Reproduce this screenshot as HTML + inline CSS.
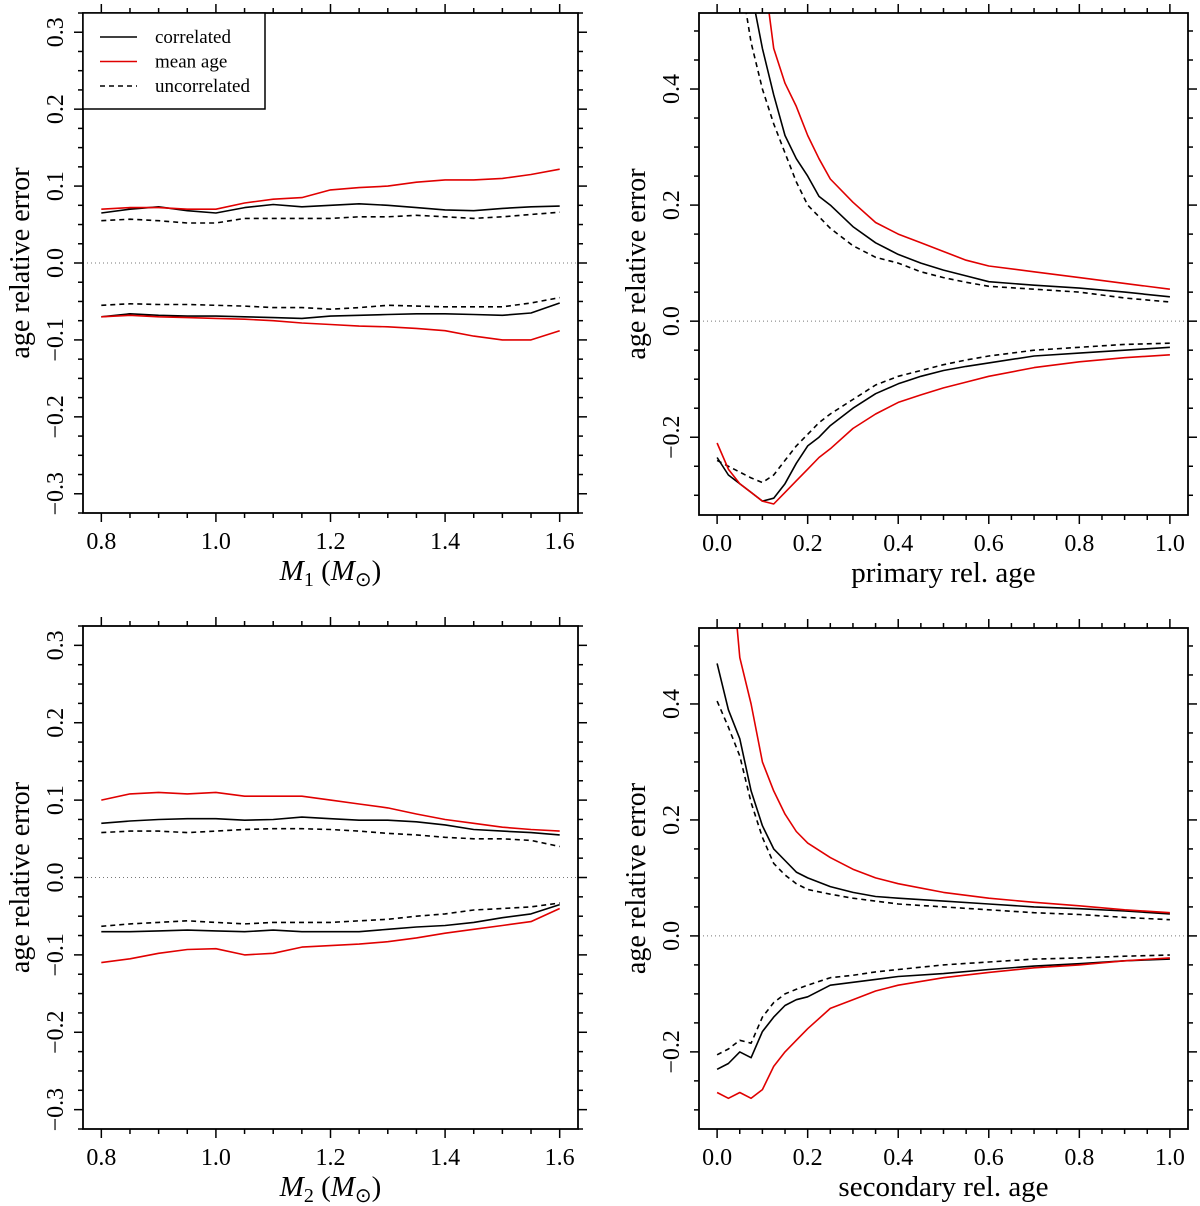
<!DOCTYPE html>
<html><head><meta charset="utf-8"><style>
html,body{margin:0;padding:0;background:#fff}
svg{display:block}
text{font-family:"Liberation Serif",serif;fill:#000}
</style></head><body>
<svg id="fig" width="1200" height="1206" xmlns="http://www.w3.org/2000/svg"></svg>
<script>
// ---- data: top-left (M1) ----
const m1X = [0.8,0.85,0.9,0.95,1.0,1.05,1.1,1.15,1.2,1.25,1.3,1.35,1.4,1.45,1.5,1.55,1.6];
const m1CorrUp = [0.065,0.07,0.073,0.068,0.065,0.072,0.076,0.073,0.075,0.077,0.075,0.072,0.069,0.068,0.071,0.073,0.074];
const m1MeanUp = [0.07,0.072,0.072,0.07,0.07,0.078,0.083,0.085,0.095,0.098,0.1,0.105,0.108,0.108,0.11,0.115,0.122];
const m1UncUp = [0.055,0.057,0.055,0.052,0.052,0.058,0.058,0.058,0.058,0.06,0.06,0.062,0.06,0.058,0.06,0.063,0.066];
const m1CorrLo = [-0.07,-0.066,-0.068,-0.069,-0.069,-0.07,-0.071,-0.072,-0.069,-0.068,-0.067,-0.066,-0.066,-0.067,-0.068,-0.065,-0.052];
const m1MeanLo = [-0.07,-0.068,-0.07,-0.071,-0.072,-0.073,-0.075,-0.078,-0.08,-0.082,-0.083,-0.085,-0.088,-0.095,-0.1,-0.1,-0.088];
const m1UncLo = [-0.055,-0.053,-0.054,-0.054,-0.055,-0.056,-0.058,-0.058,-0.06,-0.058,-0.055,-0.056,-0.057,-0.057,-0.057,-0.052,-0.045];
// ---- data: bottom-left (M2) ----
const m2X = [0.8,0.85,0.9,0.95,1.0,1.05,1.1,1.15,1.2,1.25,1.3,1.35,1.4,1.45,1.5,1.55,1.6];
const m2CorrUp = [0.07,0.073,0.075,0.076,0.076,0.074,0.075,0.078,0.076,0.074,0.074,0.072,0.068,0.062,0.06,0.058,0.055];
const m2MeanUp = [0.1,0.108,0.11,0.108,0.11,0.105,0.105,0.105,0.1,0.095,0.09,0.082,0.075,0.07,0.065,0.062,0.06];
const m2UncUp = [0.058,0.06,0.06,0.058,0.06,0.062,0.063,0.063,0.062,0.06,0.057,0.055,0.052,0.05,0.05,0.048,0.04];
const m2CorrLo = [-0.07,-0.07,-0.069,-0.068,-0.069,-0.07,-0.068,-0.07,-0.07,-0.07,-0.067,-0.064,-0.062,-0.058,-0.052,-0.047,-0.035];
const m2MeanLo = [-0.11,-0.105,-0.098,-0.093,-0.092,-0.1,-0.098,-0.09,-0.088,-0.086,-0.083,-0.078,-0.072,-0.067,-0.062,-0.057,-0.04];
const m2UncLo = [-0.063,-0.06,-0.058,-0.056,-0.058,-0.06,-0.058,-0.058,-0.058,-0.056,-0.054,-0.05,-0.047,-0.042,-0.04,-0.038,-0.033];
// ---- data: top-right (primary rel. age) ----
const pX = [0,0.025,0.05,0.075,0.1,0.125,0.15,0.175,0.2,0.225,0.25,0.3,0.35,0.4,0.45,0.5,0.55,0.6,0.7,0.8,0.9,1.0];
const pCorrUp = [1.2,0.95,0.75,0.57,0.47,0.39,0.32,0.28,0.25,0.215,0.2,0.163,0.135,0.115,0.1,0.088,0.078,0.068,0.062,0.057,0.05,0.042];
const pMeanUp = [1.8,1.4,1.1,0.85,0.62,0.47,0.41,0.37,0.32,0.28,0.245,0.205,0.17,0.15,0.135,0.12,0.105,0.095,0.085,0.075,0.065,0.055];
const pUncUp = [1.0,0.8,0.6,0.48,0.4,0.34,0.29,0.24,0.2,0.18,0.16,0.13,0.11,0.1,0.085,0.075,0.067,0.06,0.055,0.05,0.04,0.033];
const pCorrLo = [-0.235,-0.265,-0.28,-0.295,-0.31,-0.305,-0.28,-0.245,-0.215,-0.2,-0.18,-0.15,-0.125,-0.108,-0.095,-0.085,-0.078,-0.072,-0.06,-0.055,-0.05,-0.045];
const pMeanLo = [-0.21,-0.255,-0.28,-0.295,-0.31,-0.315,-0.295,-0.275,-0.255,-0.235,-0.22,-0.185,-0.16,-0.14,-0.127,-0.115,-0.105,-0.095,-0.08,-0.07,-0.063,-0.058];
const pUncLo = [-0.24,-0.25,-0.26,-0.27,-0.278,-0.265,-0.24,-0.215,-0.195,-0.175,-0.16,-0.135,-0.11,-0.095,-0.085,-0.075,-0.067,-0.06,-0.05,-0.045,-0.04,-0.038];
// ---- data: bottom-right (secondary rel. age) ----
const sX = [0,0.025,0.05,0.075,0.1,0.125,0.15,0.175,0.2,0.25,0.3,0.35,0.4,0.5,0.6,0.7,0.8,0.9,1.0];
const sCorrUp = [0.47,0.39,0.34,0.25,0.19,0.15,0.13,0.11,0.1,0.085,0.075,0.068,0.065,0.06,0.055,0.05,0.047,0.043,0.038];
const sMeanUp = [0.9,0.7,0.48,0.4,0.3,0.25,0.21,0.18,0.16,0.135,0.115,0.1,0.09,0.075,0.065,0.058,0.052,0.045,0.04];
const sUncUp = [0.405,0.36,0.31,0.23,0.17,0.125,0.105,0.09,0.08,0.072,0.065,0.06,0.055,0.05,0.045,0.04,0.037,0.032,0.028];
const sCorrLo = [-0.23,-0.22,-0.2,-0.21,-0.165,-0.14,-0.12,-0.11,-0.105,-0.085,-0.08,-0.075,-0.07,-0.065,-0.058,-0.052,-0.048,-0.043,-0.04];
const sMeanLo = [-0.27,-0.28,-0.27,-0.28,-0.265,-0.225,-0.2,-0.18,-0.16,-0.125,-0.11,-0.095,-0.085,-0.072,-0.063,-0.055,-0.05,-0.043,-0.038];
const sUncLo = [-0.205,-0.195,-0.18,-0.185,-0.14,-0.115,-0.1,-0.092,-0.085,-0.072,-0.068,-0.062,-0.058,-0.05,-0.045,-0.04,-0.038,-0.035,-0.033];
// tick labels
const leftXTicks = ["0.8","1.0","1.2","1.4","1.6"];
const leftYTicks = ["-0.3","-0.2","-0.1","0.0","0.1","0.2","0.3"];
const rightXTicks = ["0.0","0.2","0.4","0.6","0.8","1.0"];
const rightYTicks = ["-0.2","0.0","0.2","0.4"];

const NS="http://www.w3.org/2000/svg";
const svg=document.getElementById('fig');
function mk(tag,attrs,parent){const e=document.createElementNS(NS,tag);for(const k in attrs)e.setAttribute(k,attrs[k]);(parent||svg).appendChild(e);return e;}

function panel(id,L,R,T,B,xmin,xmax,ymin,ymax,xMinorStep,xMajorLabels,yMinorStep,yMajorLabels,series,xs,xtitle,legend){
  const g=mk('g',{});
  
  
  const sx=v=>L+(v-xmin)/(xmax-xmin)*(R-L);
  const sy=v=>B-(v-ymin)/(ymax-ymin)*(B-T);
  const cp=mk('clipPath',{id:'clip-'+id},g);
  mk('rect',{x:L,y:T,width:R-L,height:B-T},cp);
  const z=mk('line',{x1:L,x2:R,y1:sy(0),y2:sy(0),stroke:'#777','stroke-width':1,'stroke-dasharray':'1,3'},g);
  
  
  const xlo=Math.ceil((xmin)/xMinorStep-1e-6), xhi=Math.floor(xmax/xMinorStep+1e-6);
  const majorX=xMajorLabels.map(Number);
  for(let i=xlo;i<=xhi;i++){
    const v=i*xMinorStep, X=sx(v);
    const isMaj=majorX.some(m=>Math.abs(m-v)<1e-6);
    const len=isMaj?9:5;
    mk('line',{x1:X,x2:X,y1:B,y2:B+len,stroke:'#000','stroke-width':1.5},g);
    mk('line',{x1:X,x2:X,y1:T,y2:T-len,stroke:'#000','stroke-width':1.5},g);
  }
  xMajorLabels.forEach(s=>{const t=mk('text',{x:sx(Number(s)),y:B+36,'font-size':24,'text-anchor':'middle'},g);t.textContent=s;
    });
  const ylo=Math.ceil(ymin/yMinorStep-1e-6), yhi=Math.floor(ymax/yMinorStep+1e-6);
  const majorY=yMajorLabels.map(Number);
  for(let i=ylo;i<=yhi;i++){
    const v=i*yMinorStep, Y=sy(v);
    const isMaj=majorY.some(m=>Math.abs(m-v)<1e-6);
    const len=isMaj?9:5;
    mk('line',{x1:L,x2:L-len,y1:Y,y2:Y,stroke:'#000','stroke-width':1.5},g);
    mk('line',{x1:R,x2:R+len,y1:Y,y2:Y,stroke:'#000','stroke-width':1.5},g);
  }
  yMajorLabels.forEach(s=>{const Y=sy(Number(s));const t=mk('text',{x:0,y:0,'font-size':24,'text-anchor':'middle',transform:`translate(${L-20},${Y}) rotate(-90)`},g);t.textContent=s.replace('-','\u2212');
    });
  const sg=mk('g',{'clip-path':`url(#clip-${id})`},g);
  series.forEach(s=>{
    const d=s.v.map((v,i)=>(i?'L':'M')+sx(xs[i]).toFixed(1)+','+sy(v).toFixed(1)).join('');
    const p=mk('path',{d:d,fill:'none',stroke:s.c,'stroke-width':1.6,'stroke-dasharray':s.dash?'5,4':'none','stroke-linejoin':'round'},sg);
    
    
  });
  const fr=mk('rect',{x:L,y:T,width:R-L,height:B-T,fill:'none',stroke:'#000','stroke-width':1.8},g);
  
  
  const yt=mk('text',{x:0,y:0,'font-size':28,'text-anchor':'middle',transform:`translate(${L-54},${(T+B)/2}) rotate(-90)`},g);
  yt.textContent='age relative error';
  
  
  const xt=mk('text',{x:(L+R)/2,y:B+67,'font-size':29,'text-anchor':'middle'},g);
  
  
  if(xtitle.sub){
    const a=mk('tspan',{'font-style':'italic'},xt);a.textContent='M';
    const b=mk('tspan',{'font-size':20,dy:6},xt);b.textContent=xtitle.sub;
    const c=mk('tspan',{dy:-6},xt);c.textContent=' (';
    const d=mk('tspan',{'font-style':'italic'},xt);d.textContent='M';
    const e=mk('tspan',{'font-size':20,dy:6},xt);e.textContent='\u2299';
    const f=mk('tspan',{dy:-6},xt);f.textContent=')';
  } else xt.textContent=xtitle.text;
  if(legend){
    const lg=mk('g',{},g);
    
    
    mk('rect',{x:L,y:T,width:182,height:96,fill:'#fff',stroke:'#000','stroke-width':1.5},lg);
    [['correlated','#000',false],['mean age','#e00000',false],['uncorrelated','#000',true]].forEach((e,i)=>{
      const y=T+24+i*24.5;
      const ln=mk('line',{x1:L+17,x2:L+54,y1:y,y2:y,stroke:e[1],'stroke-width':1.6,'stroke-dasharray':e[2]?'5,4':'none'},lg);
      
      
      const t=mk('text',{x:L+72,y:y+6,'font-size':19},lg);t.textContent=e[0];
      
      
    });
  }
}
const RED='#e00000';
panel('panel-m1',83,578,13,513,0.768,1.632,-0.325,0.325,0.05,leftXTicks,0.025,leftYTicks,[
 {n:'m1-uncorrelated-upper',v:m1UncUp,c:'#000',dash:true},{n:'m1-uncorrelated-lower',v:m1UncLo,c:'#000',dash:true},
 {n:'m1-correlated-upper',v:m1CorrUp,c:'#000'},{n:'m1-correlated-lower',v:m1CorrLo,c:'#000'},
 {n:'m1-mean-age-upper',v:m1MeanUp,c:RED},{n:'m1-mean-age-lower',v:m1MeanLo,c:RED}],m1X,{sub:'1'},true);
panel('panel-m2',83,578,626,1129,0.768,1.632,-0.325,0.325,0.05,leftXTicks,0.025,leftYTicks,[
 {n:'m2-uncorrelated-upper',v:m2UncUp,c:'#000',dash:true},{n:'m2-uncorrelated-lower',v:m2UncLo,c:'#000',dash:true},
 {n:'m2-correlated-upper',v:m2CorrUp,c:'#000'},{n:'m2-correlated-lower',v:m2CorrLo,c:'#000'},
 {n:'m2-mean-age-upper',v:m2MeanUp,c:RED},{n:'m2-mean-age-lower',v:m2MeanLo,c:RED}],m2X,{sub:'2'},false);
panel('panel-primary',699,1188,13,515,-0.04,1.04,-0.334,0.531,0.05,rightXTicks,0.05,rightYTicks,[
 {n:'primary-uncorrelated-upper',v:pUncUp,c:'#000',dash:true},{n:'primary-uncorrelated-lower',v:pUncLo,c:'#000',dash:true},
 {n:'primary-correlated-upper',v:pCorrUp,c:'#000'},{n:'primary-correlated-lower',v:pCorrLo,c:'#000'},
 {n:'primary-mean-age-upper',v:pMeanUp,c:RED},{n:'primary-mean-age-lower',v:pMeanLo,c:RED}],pX,{text:'primary rel. age'},false);
panel('panel-secondary',699,1188,628,1129,-0.04,1.04,-0.333,0.531,0.05,rightXTicks,0.05,rightYTicks,[
 {n:'secondary-uncorrelated-upper',v:sUncUp,c:'#000',dash:true},{n:'secondary-uncorrelated-lower',v:sUncLo,c:'#000',dash:true},
 {n:'secondary-correlated-upper',v:sCorrUp,c:'#000'},{n:'secondary-correlated-lower',v:sCorrLo,c:'#000'},
 {n:'secondary-mean-age-upper',v:sMeanUp,c:RED},{n:'secondary-mean-age-lower',v:sMeanLo,c:RED}],sX,{text:'secondary rel. age'},false);
</script>
</body></html>
